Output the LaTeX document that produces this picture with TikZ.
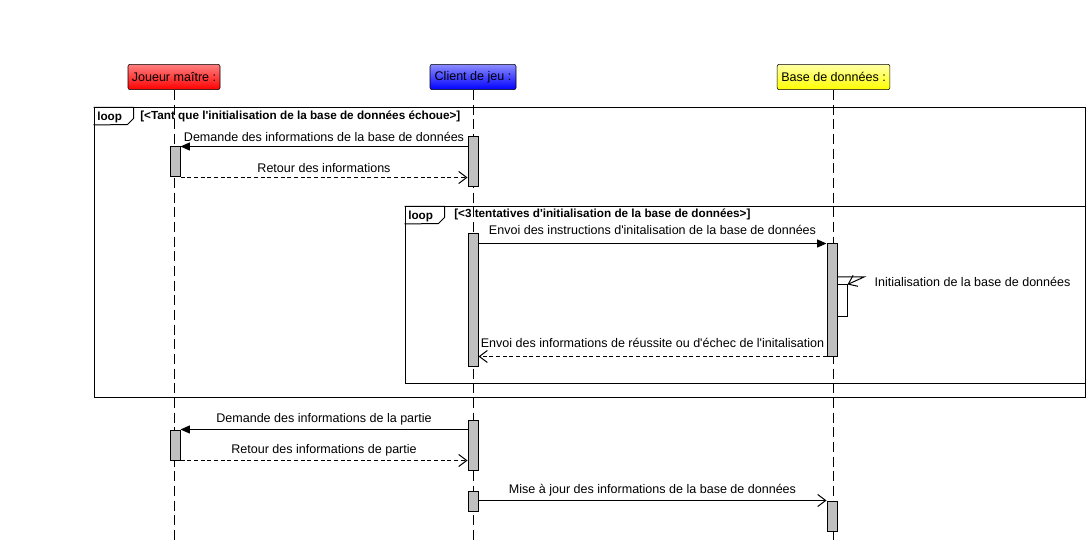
\documentclass[tikz,border=0pt]{standalone}
\usepackage{fontspec}
\setmainfont{Liberation Sans}
\usetikzlibrary{arrows.meta,fit}

\definecolor{actgray}{HTML}{C0C0C0}
\newcommand{\apos}{\textquotesingle}

\tikzset{
    txt/.style={font=\fontsize{9.4}{11}\selectfont, inner sep=1pt},
    head/.style={draw, rounded corners=1.5pt, minimum height=19pt, inner sep=2pt, txt},
    lifeline/.style={line width=0.75pt, dash pattern=on 7.5pt off 3.5pt},
    activ/.style={draw, fill=actgray, inner sep=0pt, line width=0.75pt},
    frame/.style={draw, line width=0.75pt},
    framelabel/.style={font=\bfseries\fontsize{8.8}{10}\selectfont, inner sep=0pt, anchor=west},
    call/.style={line width=0.75pt, -{Triangle[length=7pt,width=6pt]}},
    async/.style={line width=0.75pt, -{Straight Barb[length=6pt,width=9pt]}},
    reply/.style={line width=0.75pt, dash pattern=on 3pt off 2pt, -{Straight Barb[length=6pt,width=9pt]}},
    msgtext/.style={txt, above=2pt}
}

\begin{document}
\begin{tikzpicture}[x=0.75pt, y=-0.75pt]
\useasboundingbox (0,0) rectangle (1087,541);

% participants
\node [head, top color=red!50, bottom color=red, minimum width=69pt] (joueur) at (174,77) {Joueur maître :};
\node [head, top color=blue!45, bottom color=blue, minimum width=64.5pt] (client) at (473,77) {Client de jeu :};
\node [head, top color=yellow!35, bottom color=yellow, minimum width=84.5pt] (base) at (833.5,77) {Base de données :};

\draw [lifeline] (joueur.south) -- (joueur.south |- 0,541);
\draw [lifeline] (client.south) -- (client.south |- 0,541);
\draw [lifeline] (base.south) -- (base.south |- 0,541);

% loop frames
\node [frame, fit={(94,108) (1085,397)}, inner sep=0pt] (outer) {};
\draw [frame] (outer.north west) -- ++(40,0) -- ++(0,11) -- ++(-6,6) -- (outer.north west |- 0,125);
\node [framelabel] (outertag) at (97,117) {loop};
\node [framelabel] (outercond) at (140,116) {[<Tant que l\apos initialisation de la base de données échoue>]};

\node [frame, fit={(405,207) (1085,383)}, inner sep=0pt] (inner) {};
\draw [frame] (inner.north west) -- ++(40,0) -- ++(0,11) -- ++(-6,6) -- (inner.north west |- 0,224);
\node [framelabel] (innertag) at (408,216) {loop};
\node [framelabel] (innercond) at (454,214) {[<3 tentatives d\apos initialisation de la base de données>]};

% activations
\node [activ, fit={(468,137) (478,187)}] (actC1) {};
\node [activ, fit={(170,147) (180,177)}] (actJ1) {};
\node [activ, fit={(468,234) (478,366)}] (actC2) {};
\node [activ, fit={(827,244) (837,356)}] (actB1) {};
\node [activ, fill=white, fit={(837,285) (847,316)}] (actS) {};
\node [activ, fit={(468,420) (478,470)}] (actC3) {};
\node [activ, fit={(170,430) (180,460)}] (actJ2) {};
\node [activ, fit={(468,491) (478,511)}] (actC4) {};
\node [activ, fit={(827,501) (837,531)}] (actB2) {};

% messages
\draw [call] (actC1.west |- actJ1.north) -- node [msgtext] {Demande des informations de la base de données} (actJ1.north east);
\draw [reply] (actJ1.south east) -- node [msgtext] {Retour des informations} (actC1.west |- actJ1.south);

\draw [call] (actC2.east |- actB1.north) -- node [msgtext, above=3.5pt] {Envoi des instructions d\apos initalisation de la base de données} (actB1.north west);
\coordinate (selfturn) at (864,277);
\draw [async] (actB1.east |- selfturn) -- (selfturn) -- (actS.north east);
\node [txt, anchor=west] (selftext) at (873,282) {Initialisation de la base de données};
\draw [reply] (actB1.south west) -- node [msgtext, above=3.5pt] {Envoi des informations de réussite ou d\apos échec de l\apos initalisation} (actC2.east |- actB1.south);

\draw [call] (actC3.west |- actJ2.north) -- node [msgtext] {Demande des informations de la partie} (actJ2.north east);
\draw [reply] (actJ2.south east) -- node [msgtext] {Retour des informations de partie} (actC3.west |- actJ2.south);

\draw [async] (actC4.east |- actB2.north) -- node [msgtext] {Mise à jour des informations de la base de données} (actB2.north west);
\end{tikzpicture}
\end{document}
